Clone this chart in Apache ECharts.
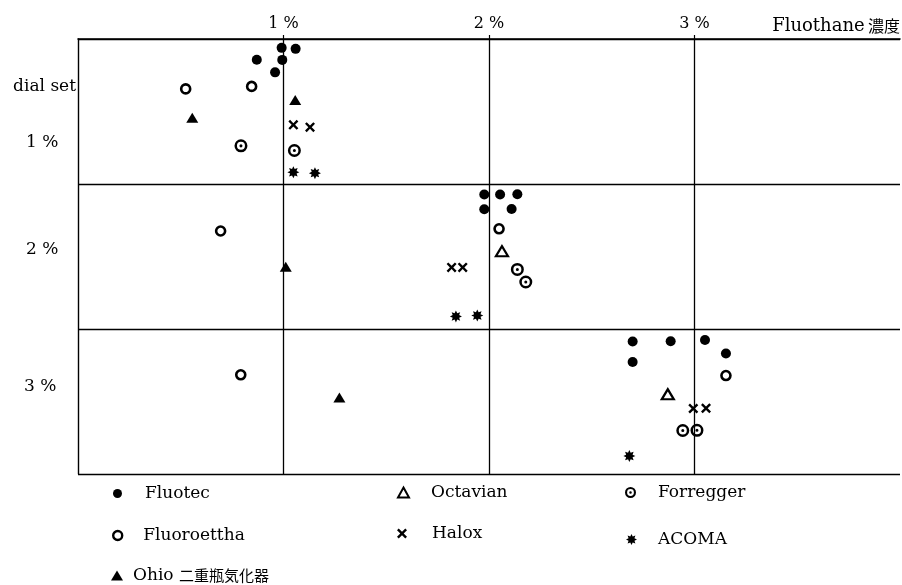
<!DOCTYPE html>
<html><head><meta charset="utf-8">
<script src="https://cdn.jsdelivr.net/npm/echarts@6/dist/echarts.min.js"></script>
<style>html,body{margin:0;padding:0;background:#fff}#c{width:902px;height:585px}</style>
</head><body><div id="c"></div>
<script>
// ---- data (x = measured Fluothane concentration %, y = position within dial-set band) ----
const xTickValues = [1, 2, 3];
const xTickLabels = ['1 %', '2 %', '3 %'];
const yBandLabels = ['1 %', '2 %', '3 %'];
const yTitle = 'dial set';
const xTitleLatin = 'Fluothane';
const xTitleCJK = '濃度';

const fluotec = [[0.991,0.061],[1.059,0.068],[0.870,0.143],[0.994,0.144],[0.959,0.230],
  [1.977,1.073],[2.054,1.072],[2.138,1.071],[1.977,1.174],[2.110,1.173],
  [2.699,2.086],[2.884,2.084],[3.051,2.076],[3.153,2.169],[2.699,2.228]];
const fluoroettha = [[0.524,0.344],[0.845,0.327],[2.049,1.309],[0.694,1.324],[3.153,2.321],[0.792,2.316]];
const ohio = [[0.556,0.543],[1.057,0.420],[1.011,1.570],[1.272,2.473]];
const octavian = [[2.063,1.463],[2.870,2.450]];
const halox = [[1.048,0.592],[1.129,0.608],[1.818,1.575],[1.872,1.575],[2.994,2.548],[3.056,2.547]];
const forregger = [[0.793,0.737],[1.053,0.769],[2.138,1.589],[2.179,1.676],[2.943,2.700],[3.012,2.699]];
const acoma = [[1.048,0.919],[1.153,0.925],[1.839,1.913],[1.943,1.907],[2.683,2.876]];

// ---- symbol shapes ----
const INK = '#000';
const SERIF = '"DejaVu Serif", "Noto Sans CJK JP", serif';
const CJK = '"Noto Sans CJK JP", sans-serif';
const xPath = 'path://M0,1.7 L1.7,0 L5,3.3 L8.3,0 L10,1.7 L6.7,5 L10,8.3 L8.3,10 L5,6.7 L1.7,10 L0,8.3 L3.3,5 Z';
const bullPath = 'path://M0,6 A6,6 0 1 1 12,6 A6,6 0 1 1 0,6 Z M2.3,6 A3.7,3.7 0 1 0 9.7,6 A3.7,3.7 0 1 0 2.3,6 Z M4.6,6 A1.4,1.4 0 1 1 7.4,6 A1.4,1.4 0 1 1 4.6,6 Z';
function starPath() {
  let d = 'path://';
  for (let i = 0; i < 16; i++) {
    const a = i * Math.PI / 8 - Math.PI / 2;
    const r = i % 2 === 0 ? 5 : 2.9;
    d += (i === 0 ? 'M' : 'L') + (5 + r * Math.cos(a)).toFixed(2) + ',' + (5 + r * Math.sin(a)).toFixed(2) + ' ';
  }
  return d + 'Z';
}
const starSym = starPath();

const series = [
  { name: 'Fluotec', data: fluotec, symbol: 'circle', symbolSize: 10, itemStyle: { color: INK } },
  { name: 'Fluoroettha', data: fluoroettha, symbol: 'circle', symbolSize: 9, itemStyle: { color: '#fff', borderColor: INK, borderWidth: 2.6 } },
  { name: 'Ohio 二重瓶気化器', data: ohio, symbol: 'triangle', symbolSize: [12, 10], itemStyle: { color: INK } },
  { name: 'Octavian', data: octavian, symbol: 'triangle', symbolSize: [12, 10], itemStyle: { color: '#fff', borderColor: INK, borderWidth: 2.2 } },
  { name: 'Halox', data: halox, symbol: xPath, symbolSize: 10, itemStyle: { color: INK } },
  { name: 'Forregger', data: forregger, symbol: bullPath, symbolSize: 13, itemStyle: { color: INK } },
  { name: 'ACOMA', data: acoma, symbol: starSym, symbolSize: 12, itemStyle: { color: INK } }
].map(s => {
  s.itemStyle.opacity = 1;
  return Object.assign({ type: 'scatter', z: 5 }, s);
});

series[0].markLine = {
  silent: true, symbol: 'none', label: { show: false },
  lineStyle: { color: INK, width: 1.3, type: 'solid', opacity: 1 },
  data: xTickValues.map(v => ({ xAxis: v }))
};

function leg(name, left, top, w, h, pad, extra) {
  return {
    data: [Object.assign({ name: name }, extra || {})],
    left: left, top: top, itemWidth: w, itemHeight: h, padding: 0,
    selectedMode: false,
    formatter: n => {
      const m = n.match(/^(\S+)\s+(.+)$/);
      return m ? '{a|' + m[1] + '} {b|' + m[2] + '}' : n;
    },
    textStyle: {
      fontFamily: SERIF, fontSize: 17, color: INK, padding: [0, 0, 0, pad],
      rich: {
        a: { fontFamily: SERIF, fontSize: 17, color: INK },
        b: { fontFamily: CJK, fontSize: 15, color: INK }
      }
    }
  };
}

const option = {
  backgroundColor: '#fff',
  animation: false,
  grid: { left: 78, right: 2, top: 39, bottom: 111 },
  xAxis: {
    type: 'value', position: 'top', min: 0, max: 4, interval: 1,
    axisLine: { show: true, lineStyle: { color: INK, width: 1.6 } },
    axisTick: { show: true, length: 4, inside: false, customValues: xTickValues, lineStyle: { color: INK, width: 1.2 } },
    axisLabel: {
      customValues: xTickValues, margin: 7,
      formatter: v => { const i = xTickValues.indexOf(v); return i >= 0 ? xTickLabels[i] : ''; },
      fontFamily: SERIF, fontSize: 16, color: INK
    },
    splitLine: { show: false }
  },
  yAxis: {
    type: 'value', inverse: true, min: 0, max: 3, interval: 1,
    axisLine: { show: true, lineStyle: { color: INK, width: 1.4 } },
    axisTick: { show: false }, axisLabel: { show: false },
    splitLine: { show: true, lineStyle: { color: INK, width: 1.4 } }
  },
  legend: [
    leg('Fluotec', 113, 485, 9, 9, 18),
    leg('Octavian', 397, 484, 11, 10, 17, { itemStyle: { color: '#fff', borderColor: INK, borderWidth: 2 } }),
    leg('Forregger', 625, 484, 11, 11, 17),
    leg('Fluoroettha', 112, 527, 9, 9, 16, { itemStyle: { color: '#fff', borderColor: INK, borderWidth: 2.4 } }),
    leg('Halox', 397, 525, 10, 10, 20),
    leg('ACOMA', 626, 531, 11, 11, 16),
    leg('Ohio 二重瓶気化器', 111, 567, 12, 10, 5)
  ],
  graphic: [
    { type: 'text', right: 2, top: 17, style: {
        text: '{a|' + xTitleLatin + '} {b|' + xTitleCJK + '}', fill: INK,
        rich: { a: { fontFamily: SERIF, fontSize: 18, fill: INK }, b: { fontFamily: CJK, fontSize: 16, fill: INK } } } },
    { type: 'text', right: 826, top: 78, style: { text: yTitle, font: '17px ' + SERIF, fill: INK } },
    { type: 'text', left: 26, top: 134, style: { text: yBandLabels[0], font: '17px ' + SERIF, fill: INK } },
    { type: 'text', left: 26, top: 241, style: { text: yBandLabels[1], font: '17px ' + SERIF, fill: INK } },
    { type: 'text', left: 24, top: 378, style: { text: yBandLabels[2], font: '17px ' + SERIF, fill: INK } }
  ],
  series: series
};

const chart = echarts.init(document.getElementById('c'));
chart.setOption(option);
</script></body></html>
